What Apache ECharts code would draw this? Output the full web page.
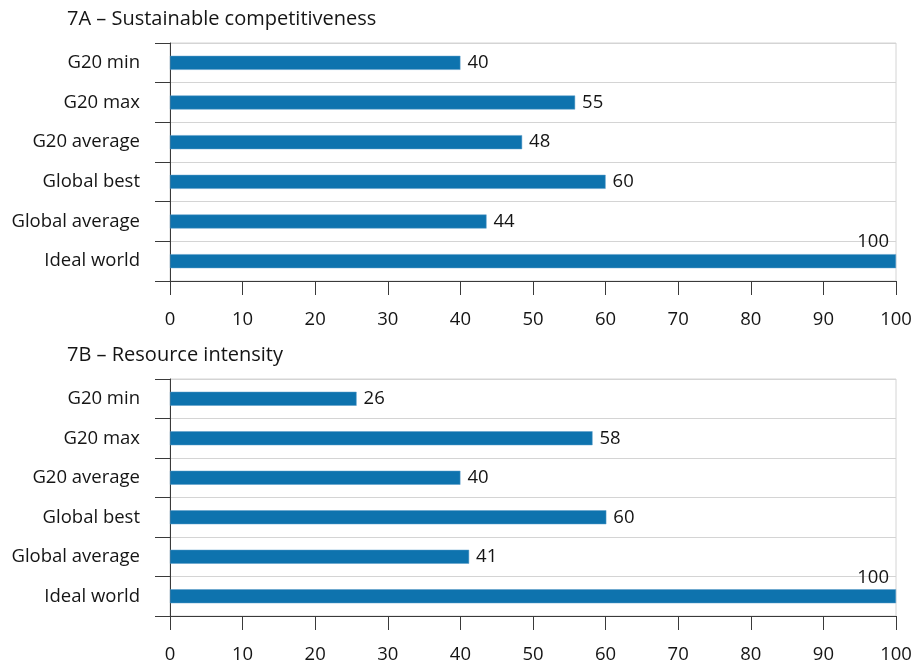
<!DOCTYPE html>
<html>
<head>
<meta charset="utf-8">
<style>
html,body{margin:0;padding:0;background:#fff;}
#chart{width:918px;height:664px;}
</style>
<script src="https://cdn.jsdelivr.net/npm/echarts@6/dist/echarts.min.js"></script>
</head>
<body>
<div id="chart"></div>
<script>
const categories = ['G20 min', 'G20 max', 'G20 average', 'Global best', 'Global average', 'Ideal world'];
const titleA = '7A – Sustainable competitiveness';
const titleB = '7B – Resource intensity';
const valuesA = [40, 55.8, 48.5, 60, 43.6, 100];
const labelsA = ['40', '55', '48', '60', '44', '100'];
const valuesB = [25.7, 58.2, 40, 60.1, 41.2, 100];
const labelsB = ['26', '58', '40', '60', '41', '100'];
const xMin = 0, xMax = 100, xStep = 10;

const FONT = 'Open Sans';
const TXT = '#151515';
const BAR = '#0e73ae';
const FS = 18.5;

function makeData(vals, labs) {
  return vals.map((v, i) => {
    const item = { value: v, labelText: labs[i] };
    if (v >= xMax) {
      item.label = { position: 'right', distance: 0, align: 'right', offset: [-7, -19] };
    }
    return item;
  });
}

function xAxisCfg(gi) {
  return {
    gridIndex: gi, type: 'value', min: xMin, max: xMax, interval: xStep,
    axisLine: { show: true, lineStyle: { color: '#3a3a3a', width: 1 } },
    axisTick: { show: true, length: 14, lineStyle: { color: '#3a3a3a' } },
    axisLabel: { margin: 29, color: TXT, fontSize: FS, fontFamily: FONT },
    splitLine: { show: false }
  };
}
function yAxisCfg(gi) {
  return {
    gridIndex: gi, type: 'category', data: categories, inverse: true,
    axisLine: { show: true, lineStyle: { color: '#3a3a3a', width: 1 } },
    axisTick: { show: true, length: 15, lineStyle: { color: '#3a3a3a' } },
    axisLabel: { margin: 30, color: TXT, fontSize: FS, fontFamily: FONT },
    splitLine: { show: true, lineStyle: { color: '#d4d4d4', width: 1 } }
  };
}
function seriesCfg(gi, vals, labs) {
  return {
    type: 'bar', xAxisIndex: gi, yAxisIndex: gi, barWidth: 14,
    itemStyle: { color: BAR, borderColor: '#5a9cc8', borderWidth: 0.5 },
    label: {
      show: true, position: 'right', distance: 7, color: TXT, fontSize: FS, fontFamily: FONT,
      formatter: p => p.data.labelText
    },
    data: makeData(vals, labs),
    silent: true, animation: false
  };
}

const chart = echarts.init(document.getElementById('chart'), null, { renderer: 'canvas' });
chart.setOption({
  animation: false,
  backgroundColor: '#ffffff',
  title: [
    { text: titleA, left: 67, top: 9, padding: 0, textStyle: { color: TXT, fontSize: 20, fontWeight: 'normal', fontFamily: FONT } },
    { text: titleB, left: 67, top: 345, padding: 0, textStyle: { color: TXT, fontSize: 20, fontWeight: 'normal', fontFamily: FONT } }
  ],
  grid: [
    { left: 170, right: 22, top: 43, height: 238, show: true, borderColor: '#d4d4d4', borderWidth: 1 },
    { left: 170, right: 22, top: 379, height: 238, show: true, borderColor: '#d4d4d4', borderWidth: 1 }
  ],
  xAxis: [xAxisCfg(0), xAxisCfg(1)],
  yAxis: [yAxisCfg(0), yAxisCfg(1)],
  series: [seriesCfg(0, valuesA, labelsA), seriesCfg(1, valuesB, labelsB)]
});
</script>
</body>
</html>
